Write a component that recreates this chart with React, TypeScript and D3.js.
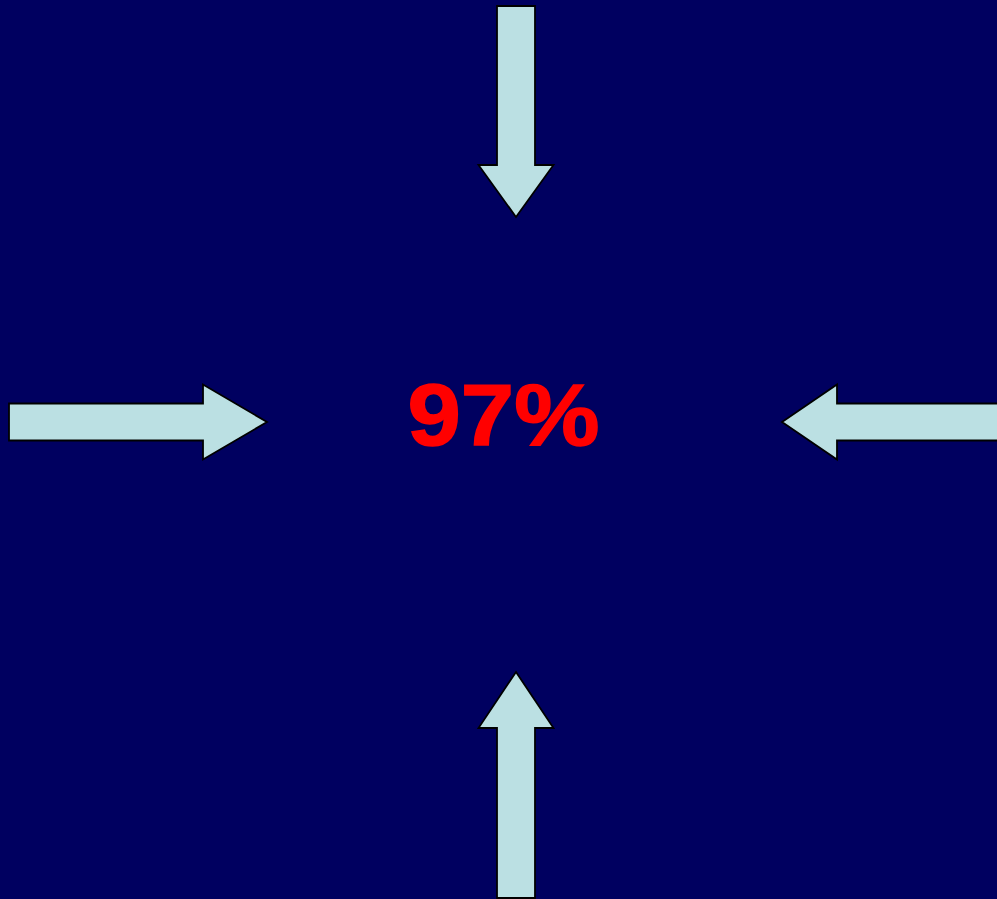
import React, { useEffect } from "react";
import * as d3 from "d3";

const WIDTH = 997;
const HEIGHT = 899;

// Arrow definitions: tip point, direction, lengths
const arrowNames = ["top", "left", "right", "bottom"];
const arrowTips: [number, number][] = [
  [516, 217],
  [267, 422],
  [782, 422],
  [516, 672],
];
const arrowDirs: [number, number][] = [
  [0, 1],
  [1, 0],
  [-1, 0],
  [0, -1],
];
const arrowLengths = [211, 258, 225, 226];
const headLengths = [52, 64, 55, 56];
const headHalfWidths = [37.5, 37.5, 37.5, 37.5];
const shaftHalfWidths = [19, 18.5, 18.5, 19];

const labelText = "97%";

export default function App() {
  useEffect(() => {
    document.body.style.margin = "0";
    document.body.style.background = "#000060";
  }, []);

  const line = d3.line<[number, number]>();

  const paths = arrowNames.map((name, i) => {
    const [tx, ty] = arrowTips[i];
    const [dx, dy] = arrowDirs[i];
    const px = -dy;
    const py = dx;
    const L = arrowLengths[i];
    const H = headLengths[i];
    const hw = headHalfWidths[i];
    const sw = shaftHalfWidths[i];
    const bx = tx - dx * H;
    const by = ty - dy * H;
    const ex = tx - dx * L;
    const ey = ty - dy * L;
    const pts: [number, number][] = [
      [tx, ty],
      [bx + px * hw, by + py * hw],
      [bx + px * sw, by + py * sw],
      [ex + px * sw, ey + py * sw],
      [ex - px * sw, ey - py * sw],
      [bx - px * sw, by - py * sw],
      [bx - px * hw, by - py * hw],
    ];
    return { name, d: line(pts) + "Z" };
  });

  return (
    <svg width={WIDTH} height={HEIGHT} style={{ display: "block" }}>
      <rect x={0} y={0} width={WIDTH} height={HEIGHT} fill="#000060" />
      {paths.map((p) => (
        <path
          key={p.name}
          d={p.d ?? ""}
          fill="#BBE0E3"
          stroke="#000000"
          strokeWidth={1.8}
          strokeLinejoin="miter"
        />
      ))}
      <text
        x={503.5}
        y={445}
        textAnchor="middle"
        fill="#FF0000"
        stroke="#FF0000"
        strokeWidth={1.5}
        fontFamily="'Liberation Sans', Arial, sans-serif"
        fontWeight="bold"
        fontSize={88}
        textLength={192}
        lengthAdjust="spacingAndGlyphs"
      >
        {labelText}
      </text>
    </svg>
  );
}
